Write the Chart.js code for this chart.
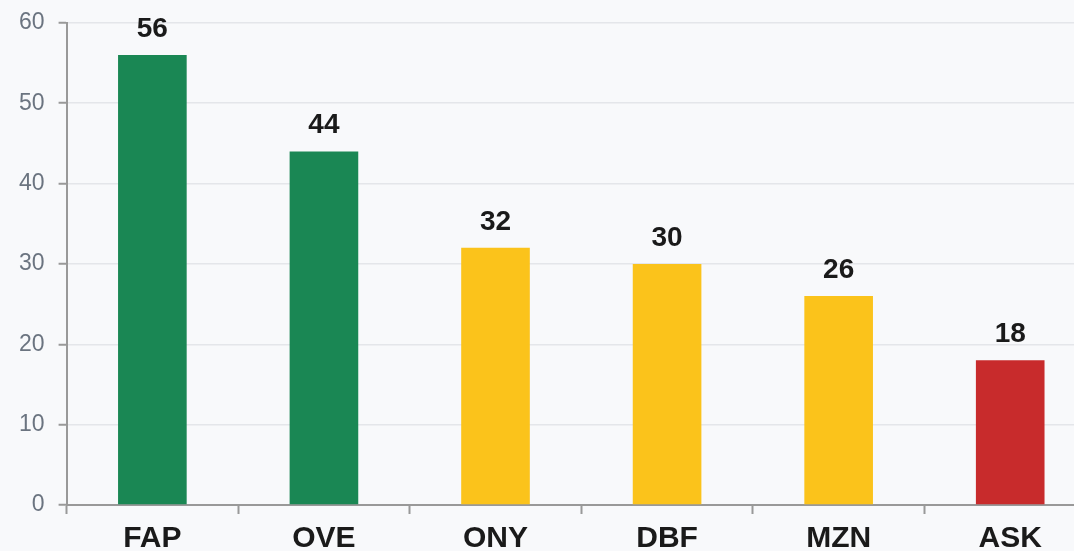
<!DOCTYPE html>
<html>
<head>
<meta charset="utf-8">
<script src="https://cdn.jsdelivr.net/npm/chart.js@4"></script>
<style>
  html, body { margin: 0; padding: 0; background: #f8f9fb; overflow: hidden; }
  #wrap { width: 1100px; height: 569px; position: relative; top: -5px; }
</style>
</head>
<body>
<div id="wrap"><canvas id="chart"></canvas></div>
<script>
const labels = ["FAP", "OVE", "ONY", "DBF", "MZN", "ASK"];
const values = [56, 44, 32, 30, 26, 18];
const barColors = ["#1a8754", "#1a8754", "#fbc31b", "#fbc31b", "#fbc31b", "#c82b2c"];
const yTicks = [0, 10, 20, 30, 40, 50, 60];

// draws the value above each bar
const valueLabels = {
    id: 'valueLabels',
    afterDatasetsDraw(chart) {
        const ctx = chart.ctx;
        const meta = chart.getDatasetMeta(0);
        ctx.save();
        ctx.font = 'bold 28px "Liberation Sans", Arial, sans-serif';
        ctx.fillStyle = '#1a1a1a';
        ctx.textAlign = 'center';
        ctx.textBaseline = 'alphabetic';
        meta.data.forEach((bar, i) => {
            ctx.fillText(String(values[i]), bar.x, bar.y - 18);
        });
        ctx.restore();
    }
};

new Chart(document.getElementById('chart'), {
    type: 'bar',
    data: {
        labels: labels,
        datasets: [{
            data: values,
            backgroundColor: barColors,
            borderWidth: 0,
            barPercentage: 0.5,
            categoryPercentage: 0.8
        }]
    },
    options: {
        responsive: true,
        maintainAspectRatio: false,
        animation: false,
        layout: { padding: { top: 5, left: 5, right: 4, bottom: 0 } },
        plugins: {
            legend: { display: false },
            tooltip: { enabled: false }
        },
        scales: {
            x: {
                grid: {
                    display: true,
                    drawOnChartArea: false,
                    offset: true,
                    tickLength: 9,
                    tickColor: '#999999',
                    tickWidth: 2
                },
                border: { display: true, color: '#999999', width: 2 },
                ticks: {
                    color: '#1a1a1a',
                    padding: 7,
                    font: { family: '"Liberation Sans", Arial, sans-serif', size: 30, weight: 'bold' }
                }
            },
            y: {
                min: 0,
                max: 60,
                afterBuildTicks: (axis) => { axis.ticks = yTicks.map(v => ({ value: v })); },
                grid: {
                    color: '#e4e6ea',
                    lineWidth: 1.5,
                    tickLength: 8,
                    tickColor: '#999999',
                    tickWidth: 2
                },
                border: { display: true, color: '#999999', width: 2 },
                ticks: {
                    color: '#6b7480',
                    padding: 14,
                    font: { family: '"Liberation Sans", Arial, sans-serif', size: 23 }
                }
            }
        }
    },
    plugins: [valueLabels]
});
</script>
</body>
</html>
